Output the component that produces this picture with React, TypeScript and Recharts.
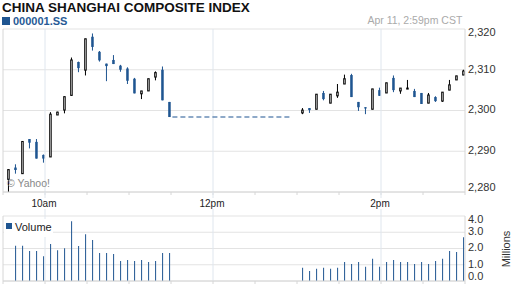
import { ComposedChart, Bar, Line, XAxis, YAxis, CartesianGrid, ReferenceLine } from 'recharts';

const BLUE = '#1f5591';
const FONT = 'Arial, "Liberation Sans", sans-serif';

// 5-minute candles, Shanghai session (morning + afternoon)
const candleTimes = [
  '09:30', '09:35', '09:40', '09:45', '09:50', '09:55',
  '10:00', '10:05', '10:10', '10:15', '10:20', '10:25',
  '10:30', '10:35', '10:40', '10:45', '10:50', '10:55',
  '11:00', '11:05', '11:10', '11:15', '11:20', '11:25',
  '13:00', '13:05', '13:10', '13:15', '13:20', '13:25',
  '13:30', '13:35', '13:40', '13:45', '13:50', '13:55',
  '14:00', '14:05', '14:10', '14:15', '14:20', '14:25',
  '14:30', '14:35', '14:40', '14:45', '14:50', '14:55',
];

const opens = [
  2283.1, 2286.0, 2284.5, 2293.0, 2292.3, 2289.1,
  2288.6, 2298.9, 2300.1, 2303.7, 2311.9, 2309.9,
  2318.1, 2314.4, 2311.5, 2312.4, 2311.0, 2310.3,
  2307.8, 2304.1, 2304.8, 2308.2, 2310.0, 2302.1,
  2299.4, 2300.6, 2300.3, 2304.3, 2301.8, 2303.6,
  2306.5, 2308.7, 2302.1, 2300.8, 2300.3, 2305.0,
  2304.3, 2308.0, 2304.8, 2305.5, 2304.8, 2304.3,
  2301.8, 2303.3, 2302.3, 2305.0, 2307.5, 2308.7,
];
const highs = [
  2285.5, 2286.8, 2292.4, 2293.0, 2293.0, 2289.2,
  2299.6, 2299.7, 2303.4, 2313.0, 2312.0, 2317.6,
  2318.9, 2314.6, 2311.5, 2313.6, 2311.2, 2310.6,
  2308.0, 2304.8, 2307.8, 2309.6, 2310.8, 2302.1,
  2300.6, 2300.6, 2304.0, 2304.8, 2304.0, 2306.5,
  2308.8, 2309.0, 2302.1, 2300.8, 2305.3, 2305.6,
  2306.8, 2308.6, 2305.5, 2307.5, 2305.3, 2304.3,
  2304.3, 2303.5, 2304.5, 2307.5, 2308.5, 2310.0,
];
const lows = [
  2280.0, 2284.5, 2284.5, 2290.7, 2288.2, 2287.2,
  2288.6, 2298.9, 2299.3, 2303.7, 2309.4, 2308.6,
  2314.7, 2312.0, 2307.2, 2311.4, 2309.5, 2306.5,
  2304.2, 2302.8, 2304.8, 2307.4, 2302.5, 2298.4,
  2299.1, 2299.4, 2300.3, 2302.5, 2301.8, 2303.1,
  2306.5, 2303.3, 2299.9, 2299.1, 2300.3, 2303.6,
  2304.3, 2304.5, 2304.1, 2305.5, 2303.3, 2301.6,
  2301.8, 2302.1, 2302.1, 2305.0, 2307.5, 2308.7,
];
const closes = [
  2285.5, 2285.4, 2292.4, 2292.1, 2288.2, 2288.2,
  2299.1, 2299.6, 2303.4, 2312.4, 2310.4, 2317.6,
  2315.6, 2312.3, 2310.9, 2311.4, 2310.0, 2307.3,
  2304.2, 2304.8, 2307.8, 2309.3, 2302.5, 2298.4,
  2300.1, 2300.1, 2304.0, 2302.8, 2304.0, 2304.5,
  2307.8, 2303.3, 2300.8, 2300.5, 2305.3, 2303.6,
  2306.8, 2305.0, 2305.5, 2305.5, 2303.3, 2301.6,
  2303.8, 2302.3, 2304.5, 2306.3, 2308.5, 2309.7,
];
// volume in millions
const volumes = [
  null, 2.17, 2.17, 1.84, 1.84, 1.53,
  2.27, 1.90, 2.02, 3.68, 2.15, 2.88,
  2.52, 1.72, 1.72, 1.66, 1.23, 1.29,
  1.23, 1.29, 1.17, 1.23, 1.72, 1.72,
  0.82, 0.61, 0.76, 0.82, 0.76, 0.82,
  1.17, 1.04, 1.17, 0.88, 1.37, 0.88,
  1.17, 1.29, 1.17, 1.17, 1.04, 1.17,
  1.04, 1.23, 1.37, 1.84, 1.78, 2.70,
];

const sessionOpen = '09:30';
const sessionClose = '15:00';
const lunchFrom = '11:31';
const lunchTo = '12:55';
const gridTimes = ['10:00', '12:00', '14:00'];
const gridLabels = ['10am', '12pm', '2pm'];
const minorTimes = [
  '09:30', '10:00', '10:30', '11:00', '11:30', '12:00',
  '12:30', '13:00', '13:30', '14:00', '14:30', '15:00',
];
const priceTicks = [2280, 2290, 2300, 2310, 2320];
const volumeTicks = [0, 1, 2, 3, 4];

const toMin = (t: string) => {
  const [h, m] = t.split(':').map(Number);
  return h * 60 + m - 9 * 60 - 30;
};

const rows = candleTimes.map((t, i) => ({
  t: toMin(t) + 4,
  range: [lows[i], highs[i]],
  open: opens[i],
  high: highs[i],
  low: lows[i],
  close: closes[i],
  vol: volumes[i],
}));

const lastMorningClose = closes[23];
const lunchLine = [
  { t: toMin(lunchFrom), v: lastMorningClose },
  { t: toMin(lunchTo), v: lastMorningClose },
];

const domainX = [toMin(sessionOpen), toMin(sessionClose)];
const gridMins = gridTimes.map(toMin);

const Candle = (props: any) => {
  const { x, y, width, height, payload } = props;
  const { open, close, high, low } = payload;
  const top = Math.min(y, y + height);
  const h = Math.abs(height);
  const k = h / (high - low);
  const py = (v: number) => top + (high - v) * k;
  const up = close >= open;
  const cx = x + width / 2;
  const bTop = py(Math.max(open, close));
  const bH = Math.max(py(Math.min(open, close)) - bTop, 1);
  return (
    <g>
      <line x1={cx} x2={cx} y1={top} y2={top + h} stroke={up ? '#000' : BLUE} strokeWidth={1} />
      {up ? (
        <rect x={x + 0.5} y={bTop} width={width - 1} height={bH} fill="#fff" stroke="#000" strokeWidth={1} />
      ) : (
        <rect x={x} y={bTop} width={width} height={bH} fill={BLUE} />
      )}
    </g>
  );
};

const makeYTick = (fmt: (v: number) => string, top: number, bottom: number) => (props: any) => {
  const { x, y, payload } = props;
  const yy = Math.min(Math.max(y - 1, top + 3), bottom - 5);
  return (
    <text x={x} y={yy} dy="0.36em" fontSize={11} fill="#333" fontFamily={FONT}>
      {fmt(payload.value)}
    </text>
  );
};

const PriceTick = makeYTick((v) => v.toLocaleString('en-US'), 29, 192);
const VolTick = makeYTick((v) => v.toFixed(1), 6, 71);

const TimeTick = (props: any) => {
  const { x, y, payload } = props;
  const i = gridMins.indexOf(payload.value);
  if (i < 0) return <g />;
  const axisY = y - 7;
  return (
    <g>
      <line x1={x} x2={x} y1={axisY} y2={axisY + 24} stroke="#dfe6ee" />
      <rect x={x - 15} y={axisY + 6} width={30} height={11} fill="#fff" />
      <text x={x - 1} y={axisY + 15} textAnchor="middle" fontSize={10} fill="#222" fontFamily={FONT}>
        {gridLabels[i]}
      </text>
    </g>
  );
};

const EmptyTick = () => <g />;

export default function App() {
  return (
    <div style={{ position: 'absolute', left: 0, top: 0, width: 512, height: 288, background: '#fff', overflow: 'hidden', fontFamily: FONT }}>
      <div style={{ position: 'absolute', left: 2, top: 0, fontSize: 13.5, fontWeight: 'bold', color: '#111', whiteSpace: 'nowrap' }}>
        CHINA SHANGHAI COMPOSITE INDEX
      </div>
      <div style={{ position: 'absolute', left: 2, top: 16.7, width: 8, height: 8, background: BLUE }} />
      <div style={{ position: 'absolute', left: 13, top: 14.6, fontSize: 11, fontWeight: 'bold', color: '#275a96', whiteSpace: 'nowrap' }}>
        000001.SS
      </div>
      <div style={{ position: 'absolute', right: 49.7, top: 13.7, fontSize: 10.5, color: '#aaa', whiteSpace: 'nowrap' }}>
        Apr 11, 2:59pm CST
      </div>

      <div style={{ position: 'absolute', left: 0, top: 0 }}>
        <ComposedChart width={512} height={216} data={rows} margin={{ top: 29, right: 0, bottom: 0, left: 3 }}>
          <CartesianGrid vertical={false} stroke="#e3e3e3" />
          <XAxis
            type="number"
            dataKey="t"
            domain={domainX}
            allowDataOverflow
            ticks={minorTimes.map(toMin)}
            height={24}
            axisLine={{ stroke: '#d6d6d6' }}
            tickLine={{ stroke: '#d6d6d6' }}
            tickSize={3}
            tickMargin={4}
            tick={TimeTick}
            interval={0}
          />
          <YAxis
            orientation="right"
            width={47}
            domain={[2280, 2320]}
            allowDataOverflow
            ticks={priceTicks}
            axisLine={{ stroke: '#d6d6d6' }}
            tickLine={false}
            tickSize={0}
            tickMargin={3}
            tick={PriceTick}
            interval={0}
          />
          <ReferenceLine x={domainX[0]} stroke="#d6d6d6" />
          {gridMins.map((m) => (
            <ReferenceLine key={m} x={m} stroke="#dfe6ee" />
          ))}
          <Line
            data={lunchLine}
            dataKey="v"
            stroke={BLUE}
            strokeWidth={1.2}
            strokeDasharray="5 3"
            dot={false}
            isAnimationActive={false}
          />
          <Bar dataKey="range" barSize={5} shape={Candle} isAnimationActive={false} />
        </ComposedChart>
      </div>

      <div style={{ position: 'absolute', left: 7, top: 176.5, fontSize: 10.5, color: '#888', whiteSpace: 'nowrap' }}>
        © Yahoo!
      </div>

      <div style={{ position: 'absolute', left: 0, top: 210 }}>
        <ComposedChart width={512} height={78} data={rows} margin={{ top: 6, right: 0, bottom: 0, left: 3 }}>
          <CartesianGrid vertical={false} stroke="#e3e3e3" />
          <XAxis
            type="number"
            dataKey="t"
            domain={domainX}
            allowDataOverflow
            ticks={minorTimes.map(toMin)}
            height={7}
            axisLine={{ stroke: '#d6d6d6' }}
            tickLine={{ stroke: '#d6d6d6' }}
            tickSize={3}
            tick={EmptyTick}
            interval={0}
          />
          <YAxis
            orientation="right"
            width={47}
            domain={[0, 4]}
            allowDataOverflow
            ticks={volumeTicks}
            axisLine={{ stroke: '#d6d6d6' }}
            tickLine={false}
            tickSize={0}
            tickMargin={3}
            tick={VolTick}
            interval={0}
          />
          <ReferenceLine x={domainX[0]} stroke="#d6d6d6" />
          {gridMins.map((m) => (
            <ReferenceLine key={m} x={m} stroke="#dfe6ee" />
          ))}
          <Bar dataKey="vol" barSize={1} fill={BLUE} isAnimationActive={false} />
        </ComposedChart>
      </div>

      <div style={{ position: 'absolute', left: 4, top: 219, width: 49, height: 18, background: '#fff' }} />
      <div style={{ position: 'absolute', left: 6, top: 223.3, width: 6, height: 6, background: BLUE }} />
      <div style={{ position: 'absolute', left: 15, top: 221, fontSize: 11, color: '#222', whiteSpace: 'nowrap' }}>
        Volume
      </div>
      <div
        style={{
          position: 'absolute',
          left: 506,
          top: 248.5,
          fontSize: 11,
          color: '#333',
          whiteSpace: 'nowrap',
          transform: 'translate(-50%, -50%) rotate(-90deg)',
        }}
      >
        Millions
      </div>
    </div>
  );
}
